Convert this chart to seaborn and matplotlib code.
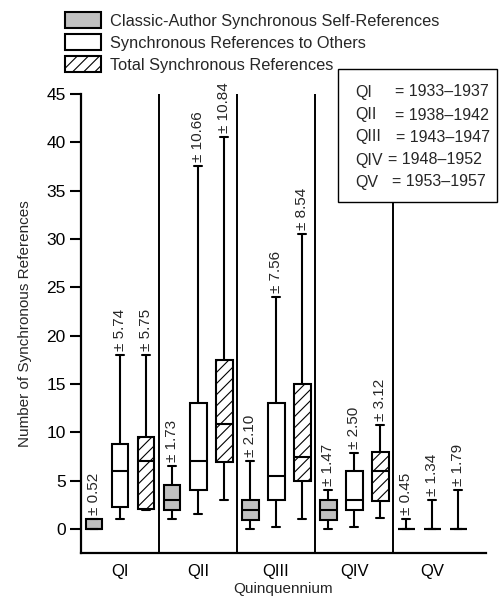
import numpy as np
import pandas as pd
import matplotlib
matplotlib.use("Agg")
import matplotlib.pyplot as plt
import seaborn as sns
from matplotlib.patches import Patch, Rectangle

# ---------------- data ----------------
quinquennia = ["QI", "QII", "QIII", "QIV", "QV"]
series_names = ["Classic-Author Synchronous Self-References",
                "Synchronous References to Others",
                "Total Synchronous References"]
# (min, q1, median, q3, max) per quinquennium
self_box = [(0, 0, 0, 1, 1), (1, 1.9, 3, 4.5, 6.5), (0, 0.9, 2, 3, 7),
            (0, 0.9, 2, 3, 4), (0, 0, 0, 0, 1)]
others_box = [(1, 2.3, 6, 8.8, 18), (1.5, 4, 7, 13, 37.5), (0.2, 3, 5.5, 13, 24),
              (0.2, 2, 3, 6, 7.8), (0, 0, 0, 0, 3)]
total_box = [(2, 2.1, 7, 9.5, 18), (3, 6.9, 10.9, 17.5, 40.5), (1, 4.9, 7.4, 15, 30.5),
             (1.1, 2.9, 6, 8, 10.7), (0, 0, 0, 0, 4)]
self_sd = [0.52, 1.73, 2.10, 1.47, 0.45]
others_sd = [5.74, 10.66, 7.56, 2.50, 1.34]
total_sd = [5.75, 10.84, 8.54, 3.12, 1.79]
period_labels = ["QI", "QII", "QIII", "QIV", "QV"]
period_years = ["= 1933\u20131937", "= 1938\u20131942", "= 1943\u20131947",
                "= 1948\u20131952", "= 1953\u20131957"]
yticks = [0, 5, 10, 15, 20, 25, 30, 35, 40, 45]

# ---------------- style ----------------
sns.set_style("ticks")
plt.rcParams["font.family"] = ["Liberation Sans", "DejaVu Sans"]
plt.rcParams["hatch.linewidth"] = 0.8

W, H = 499, 598
fig = plt.figure(figsize=(W / 100, H / 100), dpi=100)
ax = fig.add_axes([81 / W, 1 - 553 / H, 405 / W, (553 - 94) / H])

rows = []
all_boxes = [self_box, others_box, total_box]
for name, boxes in zip(series_names, all_boxes):
    for q, stats in zip(quinquennia, boxes):
        for v in stats:
            rows.append({"Quinquennium": q, "Type": name, "Value": v})
df = pd.DataFrame(rows)

palette = {series_names[0]: "#c0c0c0", series_names[1]: "white",
           series_names[2]: "white"}
sns.boxplot(data=df, x="Quinquennium", y="Value", hue="Type",
            order=quinquennia, hue_order=series_names, palette=palette,
            width=1.0, gap=0.35, whis=(0, 100), linecolor="black",
            linewidth=1.5, saturation=1, legend=False, ax=ax)

# hatch the "Total" boxes (right-most in each group)
for p in ax.patches:
    try:
        verts = p.get_path().vertices
    except Exception:
        continue
    xc = (verts[:, 0].min() + verts[:, 0].max()) / 2
    if xc - round(xc) > 0.2:
        p.set_hatch("///")

# group separators
for i in range(len(quinquennia) - 1):
    ax.axvline(i + 0.5, color="black", lw=1.4, zorder=1)

ax.set_xlim(-0.5, 4.69)
ax.set_ylim(-2.5, 45)
ax.set_yticks(yticks)
for s in ["top", "right"]:
    ax.spines[s].set_visible(False)
for s in ["left", "bottom"]:
    ax.spines[s].set_linewidth(1.6)
    ax.spines[s].set_color("black")
ax.tick_params(axis="y", direction="out", length=8, width=1.5, labelsize=12.5,
               pad=3, colors="black")
ax.tick_params(axis="x", length=0, labelsize=12, pad=8, colors="black")
ax.set_ylabel("Number of Synchronous References", fontsize=11, labelpad=10)
ax.set_xlabel("Quinquennium", fontsize=11, labelpad=2)

# SD annotations above whiskers
for j, (boxes, sds) in enumerate(zip(all_boxes, [self_sd, others_sd, total_sd])):
    off = (j - 1) / 3
    for i, (stats, sd) in enumerate(zip(boxes, sds)):
        ax.annotate(f"\u00b1 {sd:.2f}", xy=(i + off, stats[4]), xytext=(0, 3),
                    textcoords="offset points", rotation=90, ha="center",
                    va="bottom", fontsize=11, annotation_clip=False)

# top legend
handles = [Patch(facecolor="#c0c0c0", edgecolor="black", lw=1.5),
           Patch(facecolor="white", edgecolor="black", lw=1.5),
           Patch(facecolor="white", edgecolor="black", lw=1.5, hatch="///")]
fig.legend(handles, series_names, loc="upper left",
           bbox_to_anchor=(65 / W, 1 - 12 / H), frameon=False, fontsize=11.8,
           handlelength=2.2, handleheight=1.15, handletextpad=0.55,
           labelspacing=0.33, borderpad=0, borderaxespad=0)

# period key box
rect = Rectangle((338 / W, 1 - 202 / H), 159 / W, 133 / H, transform=fig.transFigure,
                 facecolor="white", edgecolor="black", lw=1.0, zorder=5)
fig.add_artist(rect)
row_y = [92, 115, 137, 160, 182]
eq_x = [395, 395, 396, 388, 392]
for lab, yrs, yy, ex in zip(period_labels, period_years, row_y, eq_x):
    fig.text(355 / W, 1 - yy / H, lab, fontsize=11.5, va="center", ha="left", zorder=6)
    fig.text(ex / W, 1 - yy / H, yrs, fontsize=11.5, va="center", ha="left", zorder=6)

fig.savefig("out.png", dpi=100)
